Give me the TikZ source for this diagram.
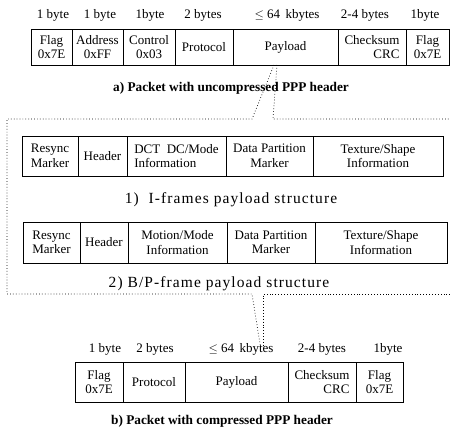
\documentclass[tikz,border=0pt]{standalone}
\usepackage{fontspec}
\setmainfont{Liberation Serif}
\newfontfamily\capfont[LetterSpace=7]{Liberation Serif}
\begin{document}
\begin{tikzpicture}[x=1pt,y=-1pt,
  cell/.style={draw, line width=1pt, inner sep=0pt, align=center, font=\fontsize{13}{14.5}\selectfont},
  sz/.style={inner sep=0pt, font=\fontsize{13}{14}\selectfont},
  capb/.style={inner sep=0pt, font=\fontsize{13.3}{14}\selectfont\bfseries},
  capr/.style={inner sep=0pt, font=\capfont\fontsize{15.5}{16}\selectfont},
  dots/.style={line width=0.7pt, dash pattern=on 0.7pt off 2.2pt}]
\useasboundingbox (0,0) rectangle (450,434);
% ---- packet a
\node[cell, minimum width=41, minimum height=36] (aflag) at (51.5,47) {Flag\\0x7E};
\node[cell, minimum width=51, minimum height=36] (aadr) at (97.5,47) {Address\\0xFF};
\node[cell, minimum width=52, minimum height=36] (actl) at (149,47) {Control\\0x03};
\node[cell, minimum width=58, minimum height=36] (apro) at (204,47) {Protocol};
\node[cell, minimum width=105, minimum height=36] (apay) at (285.5,47) {Payload};
\node[cell, minimum width=68, minimum height=36, align=right] (achk) at (372,47) {Checksum\\CRC};
\node[cell, minimum width=43, minimum height=36] (aflagb) at (427.5,47) {Flag\\0x7E};
\node[sz] (s1) at (53,15) {1 byte};
\node[sz] (s2) at (100,15) {1 byte};
\node[sz] (s3) at (150,15) {1byte};
\node[sz] (s4) at (203,15) {2 bytes};
\node[sz] (s5) at (287,15) {$\leq$ 64\,\ kbytes};
\node[sz] (s6) at (365,15) {2-4 bytes};
\node[sz] (s7) at (425,15) {1byte};
\node[capb] (capa) at (231,88) {a) Packet with uncompressed PPP header};
% ---- I-frame
\node[cell, minimum width=56, minimum height=40, align=left] (ires) at (50,156) {Resync\\Marker};
\node[cell, minimum width=49, minimum height=40] (ihdr) at (102.5,156) {Header};
\node[cell, minimum width=99, minimum height=40, align=left] (idct) at (176.5,156) {DCT\ \ DC/Mode\\Information};
\node[cell, minimum width=87, minimum height=40] (idpm) at (269.5,156) {Data Partition\\Marker};
\node[cell, minimum width=130, minimum height=40] (itex) at (378,156) {Texture/Shape\\Information};
\node[capr] (cap1) at (231,200) {1)\ \ I-frames payload structure};
% ---- B/P-frame
\node[cell, minimum width=57, minimum height=41] (bres) at (51.5,242.5) {Resync\\Marker};
\node[cell, minimum width=48, minimum height=41] (bhdr) at (104,242.5) {Header};
\node[cell, minimum width=99, minimum height=41] (bmot) at (177.5,242.5) {Motion/Mode\\Information};
\node[cell, minimum width=88, minimum height=41] (bdpm) at (271,242.5) {Data Partition\\Marker};
\node[cell, minimum width=132, minimum height=41] (btex) at (381,242.5) {Texture/Shape\\Information};
\node[capr] (cap2) at (219,284) {2) B/P-frame payload structure};
% ---- packet b
\node[cell, minimum width=48, minimum height=40] (cflag) at (99,382) {Flag\\0x7E};
\node[cell, minimum width=62, minimum height=40] (cpro) at (154,382) {Protocol};
\node[cell, minimum width=103, minimum height=40] (cpay) at (236.5,382) {Payload};
\node[cell, minimum width=68, minimum height=40, align=right] (cchk) at (322,382) {Checksum\\CRC};
\node[cell, minimum width=47, minimum height=40] (cflagb) at (379.5,382) {Flag\\0x7E};
\node[sz] (t1) at (105,349) {1 byte};
\node[sz] (t2) at (155,349) {2 bytes};
\node[sz] (t3) at (241,349) {$\leq$ 64\,\ kbytes};
\node[sz] (t4) at (322,349) {2-4 bytes};
\node[sz] (t5) at (388,349) {1byte};
\node[capb] (capb) at (222,421) {b) Packet with compressed PPP header};
% ---- dotted zoom lines
\coordinate (pl) at (274,65);
\coordinate (pr) at (277,65);
\coordinate (tl) at (252,119);
\coordinate (tr) at (273,119);
\coordinate (tre) at (450,119);
\coordinate (ctl) at (7,119);
\coordinate (cbl) at (7,294);
\coordinate (bl) at (252,294);
\coordinate (br) at (263,294);
\coordinate (bre) at (450,294);
\coordinate (ql) at (261,350);
\coordinate (qr) at (263,350);
\draw[dots] (pl) -- (tl) -- (ctl) -- (cbl) -- (bl) -- (ql);
\draw[dots] (pr) -- (tr) -- (tre);
\draw[dots] (bre) -- (br) -- (qr);
\end{tikzpicture}
\end{document}
